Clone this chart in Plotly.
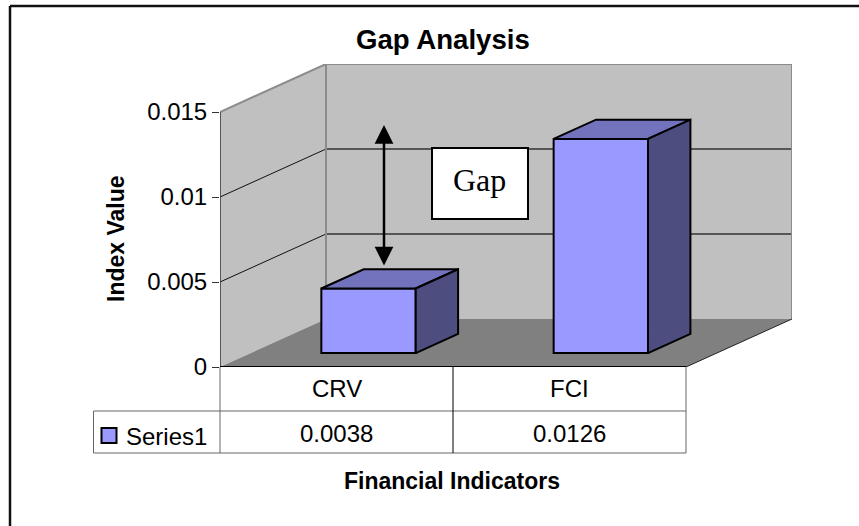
"""Gap Analysis chart: Excel-style 3D column look built on a flat Plotly axis."""

import plotly.graph_objects as go

WIDTH, HEIGHT = 859, 526

CATEGORIES = ["CRV", "FCI"]
VALUES = [0.0038, 0.0126]
VALUE_LABELS = ["0.0038", "0.0126"]
SERIES_NAME = "Series1"
Y_TICKS = [0, 0.005, 0.01, 0.015]
Y_TICK_TEXT = ["0", "0.005", "0.01", "0.015"]

WALL = "#c0c0c0"
FLOOR = "#808080"
FRONT = "#9999ff"
TOP = "#7373bd"
SIDE = "#4d4d80"
TABLE_LINE = "#666666"
FONT = "Liberation Sans, Arial, sans-serif"

# plot rectangle in page pixels
LEFT, RIGHT, TOP_PX, ZERO_PX = 220, 792, 64, 367
UNIT_PX = 233  # one category
VALUE_PX = 17000  # pixels per index unit
DEPTH_X, DEPTH_Y = 106, 48  # full floor depth in pixels

x_max = (RIGHT - LEFT) / UNIT_PX
y_max = (ZERO_PX - TOP_PX) / VALUE_PX


def project(cat_x, value, depth=0.0):
    """Category position + value + depth (0 front, 1 back) to axis coordinates."""
    return cat_x + depth * DEPTH_X / UNIT_PX, value + depth * DEPTH_Y / VALUE_PX


def paper_x(px):
    return (px - LEFT) / (RIGHT - LEFT)


def paper_y(px):
    return (ZERO_PX - px) / (ZERO_PX - TOP_PX)


def poly(points):
    pts = [project(*p) for p in points]
    return "M " + " L ".join(f"{x:.5f},{y:.7f}" for x, y in pts) + " Z"


def line_px(shapes, x0, y0, x1, y1, color=TABLE_LINE, width=1):
    shapes.append(dict(type="line", xref="paper", yref="paper", x0=paper_x(x0), y0=paper_y(y0), x1=paper_x(x1), y1=paper_y(y1), line=dict(color=color, width=width)))


def text_px(annotations, x, y, text, size=24, bold=False, family=FONT, angle=0):
    annotations.append(dict(
        xref="paper", yref="paper", x=paper_x(x), y=paper_y(y), text=f"<b>{text}</b>" if bold else text,
        showarrow=False, textangle=angle, xanchor="center", yanchor="middle",
        font=dict(family=family, size=size, color="#000000"),
    ))


shapes = []
annotations = []

# walls and floor
wall_line = dict(color="#8c8c8c", width=2)
shapes.append(dict(type="path", layer="below", path=poly([(0, 0, 0), (0, 0, 1), (0, Y_TICKS[-1], 1), (0, Y_TICKS[-1], 0)]), fillcolor=WALL, line=dict(width=0)))
shapes.append(dict(type="path", layer="below", path=poly([(0, 0, 1), (2, 0, 1), (2, Y_TICKS[-1], 1), (0, Y_TICKS[-1], 1)]), fillcolor=WALL, line=dict(width=0)))
shapes.append(dict(type="path", layer="below", path=poly([(0, 0, 0), (2, 0, 0), (2, 0, 1), (0, 0, 1)]), fillcolor=FLOOR, line=dict(width=0)))

for tick in Y_TICKS[1:3]:
    shapes.append(dict(type="path", layer="below", path=poly([(0, tick, 0), (0, tick, 1)]).replace(" Z", ""), line=dict(color="#111111", width=1)))
    shapes.append(dict(type="path", layer="below", path=poly([(0, tick, 1), (2, tick, 1)]).replace(" Z", ""), line=dict(color="#333333", width=1.3)))
shapes.append(dict(type="path", layer="below", path=poly([(0, Y_TICKS[-1], 0), (0, Y_TICKS[-1], 1), (2, Y_TICKS[-1], 1), (2, 0, 1)]).replace(" Z", ""), line=wall_line))
shapes.append(dict(type="path", layer="below", path=poly([(0, 0, 1), (0, Y_TICKS[-1], 1)]).replace(" Z", ""), line=wall_line))
shapes.append(dict(type="path", layer="below", path=poly([(2, 0, 1), (2, 0, 0)]).replace(" Z", ""), line=dict(color="#222222", width=1)))
shapes.append(dict(type="path", layer="below", path=poly([(0, 0, 0), (0, Y_TICKS[-1], 0)]).replace(" Z", ""), line=dict(color="#333333", width=1.5)))
shapes.append(dict(type="path", layer="below", path=poly([(0, 0, 0), (2, 0, 0)]).replace(" Z", ""), line=dict(color="#000000", width=2)))

# table under the plot
for y in (411, 453):
    line_px(shapes, 93.5, y, 686, y)
line_px(shapes, 220, 367, 220, 453)
line_px(shapes, 453, 367, 453, 453, color="#000000")
line_px(shapes, 686, 367, 686, 453)
line_px(shapes, 93.5, 411, 93.5, 453)
for i, (cat, label) in enumerate(zip(CATEGORIES, VALUE_LABELS)):
    center = LEFT + UNIT_PX * (i + 0.5)
    text_px(annotations, center, 388, cat)
    text_px(annotations, center, 434, label)
shapes.append(dict(type="rect", xref="paper", yref="paper", x0=paper_x(101.5), x1=paper_x(116.5), y0=paper_y(443), y1=paper_y(428), fillcolor=FRONT, line=dict(color="#000000", width=2)))
text_px(annotations, 166, 436, SERIES_NAME)

# outer chart frame, open on the right and at the bottom
line_px(shapes, 10, 6, 859, 6, color="#111111", width=2.5)
line_px(shapes, 10, 6, 10, 526, color="#111111", width=2.5)

# titles
text_px(annotations, 442.5, 40, "Gap Analysis", size=27.6, bold=True)
text_px(annotations, 116, 239, "Index Value", size=23, bold=True, angle=-90)
text_px(annotations, 451.5, 481, "Financial Indicators", size=23, bold=True)

# hand-drawn gap arrow and text box sitting over the chart
annotations.append(dict(
    xref="paper", yref="paper",
    x=paper_x(384), y=paper_y(125), ax=0, ay=142,
    showarrow=True, arrowhead=2, arrowside="end+start", arrowsize=1.5, arrowwidth=2.5, arrowcolor="#000000", text="",
))
shapes.append(dict(type="rect", xref="paper", yref="paper", x0=paper_x(432), x1=paper_x(528), y0=paper_y(219), y1=paper_y(148), fillcolor="#ffffff", line=dict(color="#000000", width=2)))
text_px(annotations, 479, 180, "Gap", size=32, family="Liberation Serif, Times New Roman, serif")

BAR_X0 = [0.303, 1.30]
BAR_W = 0.405
DEPTH_NEAR, DEPTH_FAR = 0.29, 0.69

fig = go.Figure()
near_base = DEPTH_NEAR * DEPTH_Y / VALUE_PX
fig.add_trace(go.Bar(
    x=[x0 + DEPTH_NEAR * DEPTH_X / UNIT_PX + BAR_W / 2 for x0 in BAR_X0],
    y=VALUES,
    base=near_base,
    width=BAR_W,
    marker=dict(color=FRONT, line=dict(color="#000000", width=2)),
    showlegend=False,
    hoverinfo="skip",
))

for x0, value in zip(BAR_X0, VALUES):
    x1 = x0 + BAR_W
    top = [(x0, value, DEPTH_NEAR), (x1, value, DEPTH_NEAR), (x1, value, DEPTH_FAR), (x0, value, DEPTH_FAR), (x0, value, DEPTH_NEAR)]
    side = [(x1, 0, DEPTH_NEAR), (x1, 0, DEPTH_FAR), (x1, value, DEPTH_FAR), (x1, value, DEPTH_NEAR), (x1, 0, DEPTH_NEAR)]
    for face, color in ((top, TOP), (side, SIDE)):
        pts = [project(*p) for p in face]
        fig.add_trace(go.Scatter(
            x=[p[0] for p in pts], y=[p[1] for p in pts], mode="lines", fill="toself", fillcolor=color,
            line=dict(color="#000000", width=2), showlegend=False, hoverinfo="skip",
        ))

fig.update_layout(
    width=WIDTH,
    height=HEIGHT,
    autosize=False,
    margin=dict(l=LEFT, r=WIDTH - RIGHT, t=TOP_PX, b=HEIGHT - ZERO_PX, pad=0),
    paper_bgcolor="#ffffff",
    plot_bgcolor="rgba(0,0,0,0)",
    shapes=shapes,
    annotations=annotations,
    showlegend=False,
    xaxis=dict(range=[0, x_max], visible=False, fixedrange=True),
    yaxis=dict(
        range=[0, y_max], tickmode="array", tickvals=Y_TICKS, ticktext=Y_TICK_TEXT, ticks="outside", ticklen=7, tickcolor="#333333",
        showgrid=False, zeroline=False, showline=False, fixedrange=True, tickfont=dict(family=FONT, size=24, color="#000000"),
    ),
)

# the page's default 8px body margin would push everything off position
fig.write_html("out.html", config=dict(displayModeBar=False), post_script="document.body.style.margin='0';")
